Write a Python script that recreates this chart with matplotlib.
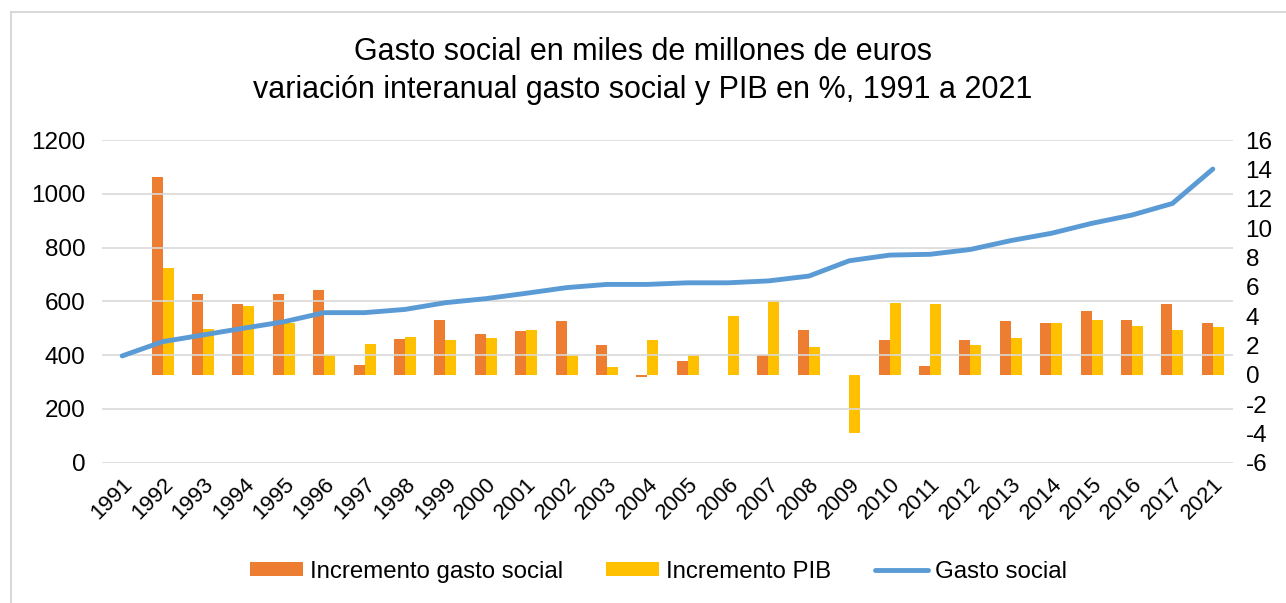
import matplotlib.pyplot as plt
import numpy as np
from matplotlib.patches import Rectangle

plt.rcParams['font.family'] = ['Liberation Sans', 'DejaVu Sans']
plt.rcParams['axes.unicode_minus'] = False

years = ["1991", "1992", "1993", "1994", "1995", "1996", "1997", "1998", "1999",
         "2000", "2001", "2002", "2003", "2004", "2005", "2006", "2007", "2008",
         "2009", "2010", "2011", "2012", "2013", "2014", "2015", "2016", "2017", "2021"]

# gasto social, miles de millones de euros (eje izquierdo)
gasto_social = [397, 450, 475, 500, 524, 558, 558, 570, 595, 610, 630, 651, 663, 663,
                669, 669, 676, 694, 751, 772, 775, 793, 826, 853, 890, 921, 964, 1092]

# variaciones interanuales en % (eje derecho)
inc_gasto = [np.nan, 13.45, 5.5, 4.8, 5.5, 5.8, 0.68, 2.43, 3.75, 2.77, 2.98, 3.66, 2.0,
             -0.16, 0.95, 0.0, 1.32, 3.04, 0.0, 2.36, 0.61, 2.36, 3.66, 3.5, 4.36,
             3.75, 4.82, 3.5]
inc_pib = [np.nan, 7.3, 3.1, 4.7, 3.55, 1.36, 2.1, 2.6, 2.36, 2.52, 3.04, 1.36, 0.52,
           2.36, 1.32, 4.0, 5.04, 1.91, -4.0, 4.89, 4.82, 2.0, 2.52, 3.5, 3.75, 3.32,
           3.04, 3.23]

fig = plt.figure(figsize=(12.86, 6.03), dpi=100)
ax = fig.add_axes([0.0793, 0.2327, 0.8795, 0.5351])
ax2 = ax.twinx()

x = np.arange(len(years))
w = 0.272

ax2.bar(x - w / 2, inc_gasto, width=w, color="#ED7D31", label="Incremento gasto social", zorder=2)
ax2.bar(x + w / 2, inc_pib, width=w, color="#FFC000", label="Incremento PIB", zorder=2)
ax2.set_ylim(-6, 16)
ax2.set_yticks(np.arange(-6, 17, 2))

# line on the left axis, drawn above the bars
ax.set_zorder(ax2.get_zorder() + 1)
ax.patch.set_visible(False)
ax.plot(x, gasto_social, color="#5B9BD5", lw=3.5, solid_capstyle="round",
        label="Gasto social", zorder=3)
ax.set_ylim(0, 1200)
ax.set_yticks(np.arange(0, 1201, 200))
ax.set_xlim(-0.5, len(years) - 0.5)
ax.set_xticks(x)
ax.set_xticklabels(years, rotation=45, ha="right", rotation_mode="anchor")

ax2.grid(False)
for v in np.arange(0, 1201, 200):
    ax.axhline(v, color="#D9D9D9", lw=1.2, zorder=0)

for a in (ax, ax2):
    for s in a.spines.values():
        s.set_visible(False)
    a.tick_params(length=0, labelsize=17.5, colors="black")
ax.tick_params(axis="y", pad=12)
ax2.tick_params(axis="y", pad=9)
ax.tick_params(axis="x", pad=8, labelsize=16)

fig.text(0.5, 0.914, "Gasto social en miles de millones de euros", ha="center",
         va="center", fontsize=22)
fig.text(0.5, 0.851, "variación interanual gasto social y PIB en %, 1991 a 2021",
         ha="center", va="center", fontsize=22)

h1, l1 = ax2.get_legend_handles_labels()
h2, l2 = ax.get_legend_handles_labels()
fig.legend(h1 + h2, l1 + l2, loc="center", bbox_to_anchor=(0.512, 0.052), ncol=3,
           frameon=False, fontsize=17.3, handlelength=2.2, handleheight=0.55,
           columnspacing=1.8, handletextpad=0.3)

fig.patches.append(Rectangle((11 / 1286, -0.1), 1.2, 1.1 - 12 / 603,
                             transform=fig.transFigure, fill=False,
                             edgecolor="#D9D9D9", lw=1.5))

fig.savefig("out.png", dpi=100)
